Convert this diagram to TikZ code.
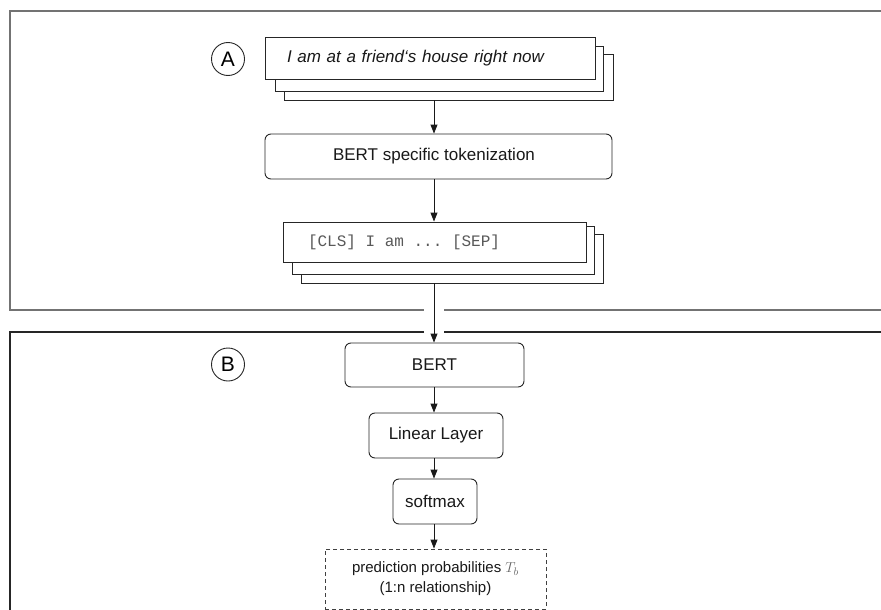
\documentclass[tikz,border=0pt]{standalone}
\usepackage{fontspec}
\setmainfont{Liberation Sans}
\setmonofont{Liberation Mono}
\usetikzlibrary{arrows.meta}
\begin{document}
\begin{tikzpicture}[x=1pt,y=-1pt,
  frameA/.style={draw=black!55,line width=1.4pt},
  frameB/.style={draw=black!85,line width=1.4pt},
  plainbox/.style={draw=black!85,fill=white,line width=0.9pt,inner sep=0pt},
  roundbox/.style={plainbox,rounded corners=6pt,font=\fontsize{17}{20}\selectfont,text=black!90},
  badge/.style={draw=black!85,line width=0.9pt,circle,minimum size=33pt,inner sep=0pt,font=\fontsize{21}{24}\selectfont},
  arr/.style={draw=black!90,line width=0.9pt,-{Triangle[length=9pt,width=7pt]}},
  predbox/.style={draw=black!75,dash pattern=on 4pt off 3pt,line width=0.9pt,fill=white,inner sep=0pt,align=center,font=\fontsize{15}{20}\selectfont,text=black!90}
]
\useasboundingbox (0,0) rectangle (881,610);
\coordinate (axis) at (434,0);

% frames
\draw[frameA] (882,11) -- (10,11) -- (10,310) -- (424,310);
\draw[frameA] (444,310) -- (882,310);
\draw[frameB] (882,332) -- (444,332);
\draw[frameB] (424,332) -- (10,332) -- (10,612);

% badges
\node[badge] (circA) at (228,59) {A};
\node[badge] (circB) at (228,364.5) {B};

% stacked input box
\node[plainbox,minimum width=329pt,minimum height=46pt] (inC) at (448.5,77) {};
\node[plainbox,minimum width=328pt,minimum height=45pt] (inB) at (439,68.5) {};
\node[plainbox,minimum width=330pt,minimum height=42pt,text width=286pt,inner xsep=22pt,align=left,
  font=\fontsize{17}{20}\selectfont\itshape,text=black!90] (inA) at (430,58) {I am at a friend‘s house right now};

% tokenization
\node[roundbox,minimum width=347pt,minimum height=45pt] (tok) at (438.5,156.5) {\hspace*{-9pt}BERT specific tokenization};

% stacked token box
\node[plainbox,minimum width=302pt,minimum height=49pt] (clsC) at (452,258.5) {};
\node[plainbox,minimum width=302pt,minimum height=48pt] (clsB) at (443,250) {};
\node[plainbox,minimum width=303pt,minimum height=40pt,text width=253pt,inner xsep=25pt,inner ysep=0pt,align=left,
  font=\ttfamily\fontsize{16}{18}\selectfont,text=black!65] (clsA) at (434.5,242) {[CLS]\hphantom{x}I\hphantom{x}am\hphantom{x}...\hphantom{x}[SEP]};

% model part
\node[roundbox,minimum width=179pt,minimum height=44pt] (bert) at (434.5,365) {BERT};
\node[roundbox,minimum width=134pt,minimum height=45pt] (lin) at (436,435.5) {Linear Layer};
\node[roundbox,minimum width=84pt,minimum height=45pt] (soft) at (435,501.5) {softmax};
\node[predbox,minimum width=221pt,minimum height=60pt] (pred) at (435.5,579)
  {prediction probabilities {\color{black!60}$T_b$}\\(1:n relationship)};

% connectors
\draw[arr] (inC.south -| axis) -- (tok.north -| axis);
\draw[arr] (tok.south -| axis) -- (clsA.north -| axis);
\draw[arr] (clsC.south -| axis) -- (bert.north -| axis);
\draw[arr] (bert.south -| axis) -- (lin.north -| axis);
\draw[arr] (lin.south -| axis) -- (soft.north -| axis);
\draw[arr] (soft.south -| axis) -- (pred.north -| axis);
\end{tikzpicture}
\end{document}
